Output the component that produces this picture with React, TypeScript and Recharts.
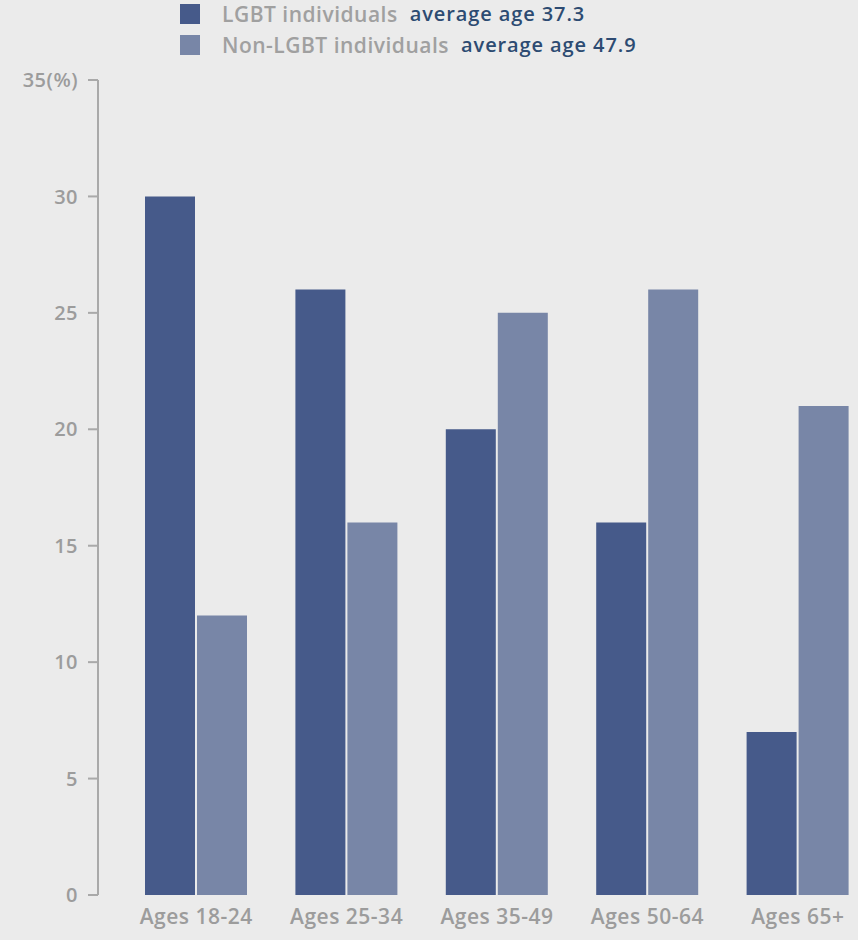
import { Bar, BarChart, XAxis, YAxis } from "recharts";

const categories = ["Ages 18-24", "Ages 25-34", "Ages 35-49", "Ages 50-64", "Ages 65+"];
const lgbt = [30, 26, 20, 16, 7];
const nonLgbt = [12, 16, 25, 26, 21];
const yTicks = [0, 5, 10, 15, 20, 25, 30, 35];

const legendItems = [
  { label: "LGBT individuals", note: "average age 37.3", color: "#465a8a" },
  { label: "Non-LGBT individuals", note: "average age 47.9", color: "#7886a7" },
];

const data = categories.map((name, i) => ({ name, lgbt: lgbt[i], nonLgbt: nonLgbt[i] }));

const font = "'Open Sans', sans-serif";
const textStyle = { fontFamily: font, fontWeight: 600, letterSpacing: 0.5 };

export default function App() {
  return (
    <div
      style={{
        position: "absolute",
        left: 0,
        top: 0,
        width: 858,
        height: 940,
        overflow: "hidden",
        background: "#ebebeb",
        fontFamily: font,
      }}
    >
      <div style={{ position: "absolute", left: 180, top: -2 }}>
        {legendItems.map((item) => (
          <div
            key={item.label}
            style={{ display: "flex", alignItems: "center", height: 31, fontSize: 21, ...textStyle }}
          >
            <span style={{ width: 20, height: 20, background: item.color, marginRight: 22 }} />
            <span style={{ color: "#a0a0a0", marginRight: 12 }}>{item.label}</span>
            <span style={{ color: "#2d4b72", fontSize: 20, letterSpacing: 0.9 }}>{item.note}</span>
          </div>
        ))}
      </div>
      <BarChart
        width={873}
        height={940}
        data={data}
        margin={{ top: 80, right: 0, bottom: 0, left: 0 }}
        barSize={50}
        barGap={2}
        style={{ position: "absolute", left: 0, top: 0 }}
      >
        <XAxis
          dataKey="name"
          axisLine={false}
          tickLine={false}
          height={45}
          padding={{ left: 23, right: 0 }}
          tick={{ fill: "#9c9c9c", fontSize: 21, ...textStyle }}
          dy={6}
          interval={0}
        />
        <YAxis
          domain={[0, 35]}
          ticks={yTicks}
          width={98}
          tickSize={10}
          axisLine={{ stroke: "#a9a9a9", strokeWidth: 2 }}
          tickLine={{ stroke: "#a9a9a9", strokeWidth: 2 }}
          tick={{ fill: "#9c9c9c", fontSize: 20, ...textStyle }}
          tickFormatter={(v: number) => (v === 35 ? "35(%)" : String(v))}
          dx={-8}
          interval={0}
        />
        <Bar dataKey="lgbt" fill="#465a8a" isAnimationActive={false} />
        <Bar dataKey="nonLgbt" fill="#7886a7" isAnimationActive={false} />
      </BarChart>
    </div>
  );
}
